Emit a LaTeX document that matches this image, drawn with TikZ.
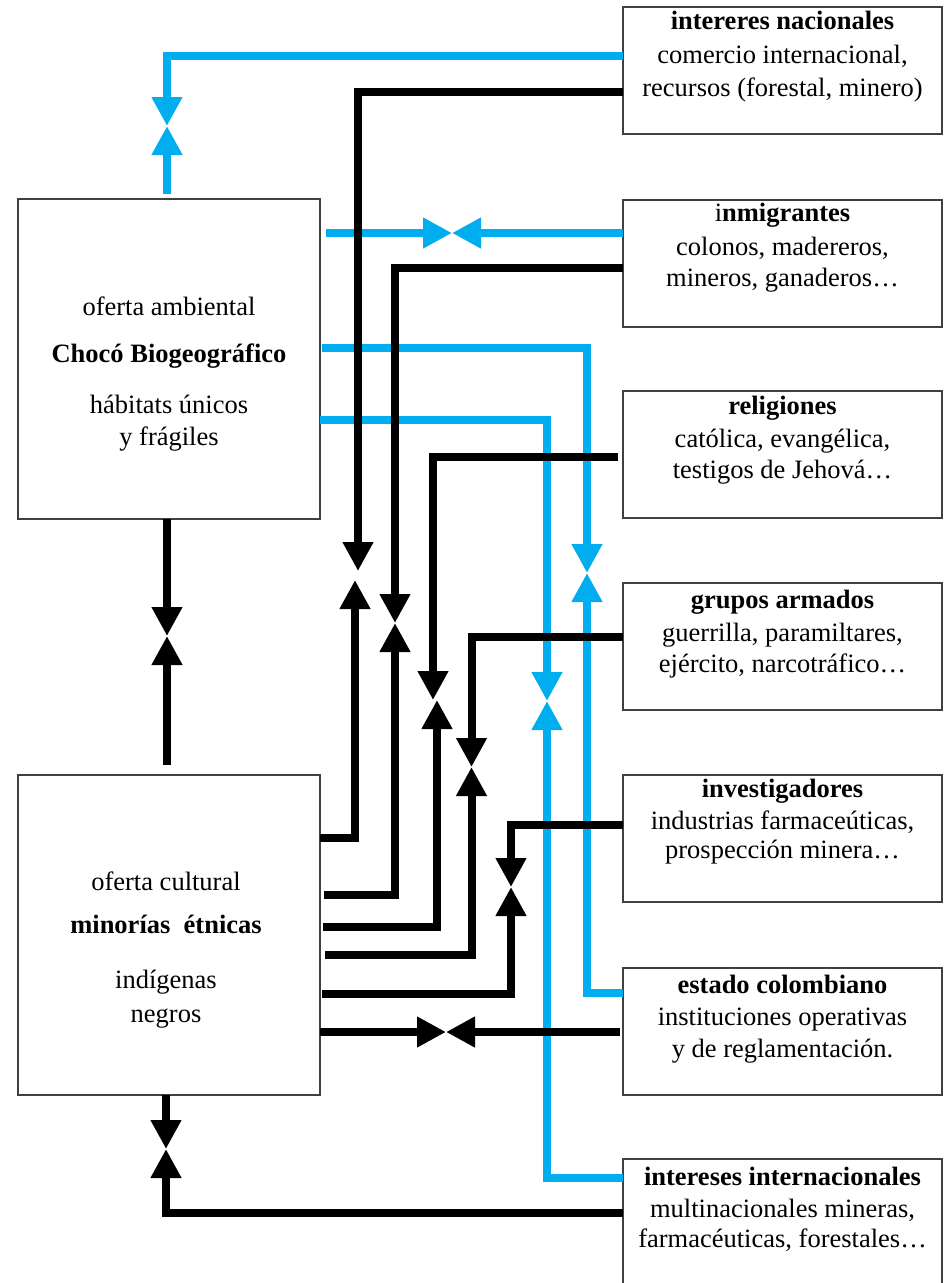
\documentclass[tikz,border=0pt]{standalone}
\usepackage{fontspec}
\setmainfont{Liberation Serif}
\usetikzlibrary{arrows.meta,calc}
\definecolor{cyanline}{HTML}{00AEEF}
\begin{document}
\begin{tikzpicture}[x=1pt,y=-1pt,
  rbox/.style={draw=black!75,line width=1.2pt,minimum width=319pt,minimum height=127pt,anchor=north west,inner sep=0pt,outer sep=0pt},
  lbox/.style={rbox,minimum width=302pt,minimum height=320pt},
  txt/.style={anchor=base,inner sep=0pt,font=\fontsize{26.5}{32}\selectfont},
  ttl/.style={anchor=base,inner sep=0pt,font=\fontsize{26.5}{32}\selectfont\bfseries},
  conn/.style={line width=8pt,-{Triangle[length=29pt,width=29pt]}},
  cy/.style={conn,color=cyanline},
  bk/.style={conn,color=black}]
\fill[white] (0,0) rectangle (948,1283);
\useasboundingbox (0,0) rectangle (948,1283);

% boxes
\node[lbox] (A) at (18,199) {};
\node[lbox] (B) at (18,775) {};
\node[rbox] (b1) at (623,7) {};
\node[rbox] (b2) at (623,200) {};
\node[rbox] (b3) at (623,391) {};
\node[rbox] (b4) at (623,583) {};
\node[rbox] (b5) at (623,775) {};
\node[rbox] (b6) at (623,968) {};
\node[rbox] (b7) at (623,1159) {};

% left texts
\node[txt] (a1) at (169,315) {oferta ambiental};
\node[ttl] (a2) at (169,362) {Chocó Biogeográfico};
\node[txt] (a3) at (169,413) {hábitats únicos};
\node[txt] (a4) at (169,445) {y frágiles};
\node[txt] (c1) at (166,890) {oferta cultural};
\node[ttl] (c2) at (166,933) {minorías\ \ étnicas};
\node[txt] (c3) at (166,988) {indígenas};
\node[txt] (c4) at (166,1022) {negros};

% right texts
\node[ttl] (t1a) at (782.5,29) {intereres nacionales};
\node[txt] (t1b) at (782.5,63) {comercio internacional,};
\node[txt] (t1c) at (782.5,96) {recursos (forestal, minero)};
\node[ttl] (t2a) at (782.5,221) {{\mdseries i}nmigrantes};
\node[txt] (t2b) at (782.5,255) {colonos, madereros,};
\node[txt] (t2c) at (782.5,286) {mineros, ganaderos…};
\node[ttl] (t3a) at (782.5,414) {religiones};
\node[txt] (t3b) at (782.5,447) {católica, evangélica,};
\node[txt] (t3c) at (782.5,478) {testigos de Jehová…};
\node[ttl] (t4a) at (782.5,608) {grupos armados};
\node[txt] (t4b) at (782.5,641) {guerrilla, paramiltares,};
\node[txt] (t4c) at (782.5,672) {ejército, narcotráfico…};
\node[ttl] (t5a) at (782.5,797) {investigadores};
\node[txt] (t5b) at (782.5,829) {industrias farmaceúticas,};
\node[txt] (t5c) at (782.5,858) {prospección minera…};
\node[ttl] (t6a) at (782.5,993) {estado colombiano};
\node[txt] (t6b) at (782.5,1025) {instituciones operativas};
\node[txt] (t6c) at (782.5,1057) {y de reglamentación.};
\node[ttl] (t7a) at (782.5,1185) {intereses internacionales};
\node[txt] (t7b) at (782.5,1217) {multinacionales mineras,};
\node[txt] (t7c) at (782.5,1247) {farmacéuticas, forestales…};

% meeting points
\coordinate (m1) at (167,126);
\coordinate (m2) at (452,233);
\coordinate (m3a) at (358,571);
\coordinate (m3b) at (355,580);
\coordinate (m4) at (395,623);
\coordinate (m5a) at (433,700);
\coordinate (m5b) at (437,700);
\coordinate (m6) at (471.5,767);
\coordinate (m7) at (511,887);
\coordinate (m8) at (446,1032);
\coordinate (m9) at (587,573);
\coordinate (m10) at (547,701);
\coordinate (m11) at (167,636);
\coordinate (m12) at (166,1149);

% cyan connectors
\draw[cy] (b1.west |- 0,56) -| (m1);
\draw[cy] ($(A.north -| m1)+(0,-5)$) -- (m1);
\draw[cy] ($(A.east |- m2)+(6,0)$) -- (m2);
\draw[cy] (b2.west |- m2) -- (m2);
\draw[cy] ($(A.east |- 0,348)+(2,0)$) -| (m9);
\draw[cy] (b6.west |- 0,993) -| (m9);
\draw[cy] (A.east |- 0,420) -| (m10);
\draw[cy] (b7.west |- 0,1178) -| (m10);

% black connectors
\draw[bk] (b1.west |- 0,92) -| (m3a);
\draw[bk] (B.east |- 0,838) -| (m3b);
\draw[bk] (b2.west |- 0,268) -| (m4);
\draw[bk] ($(B.east |- 0,895)+(4,0)$) -| (m4);
\draw[bk] ($(b3.west |- 0,457)+(-5,0)$) -| (m5a);
\draw[bk] ($(B.east |- 0,927)+(3,0)$) -| (m5b);
\draw[bk] (b4.west |- 0,637) -| (m6);
\draw[bk] ($(B.east |- 0,955)+(5,0)$) -| (m6);
\draw[bk] (b5.west |- 0,825) -| (m7);
\draw[bk] ($(B.east |- 0,994)+(2,0)$) -| (m7);
\draw[bk] (B.east |- m8) -- (m8);
\draw[bk] ($(b6.west |- m8)+(-3,0)$) -- (m8);
\draw[bk] (A.south -| m11) -- (m11);
\draw[bk] ($(B.north -| m11)+(0,-10)$) -- (m11);
\draw[bk] (B.south -| m12) -- (m12);
\draw[bk] (b7.west |- 0,1213) -| (m12);
\end{tikzpicture}
\end{document}
